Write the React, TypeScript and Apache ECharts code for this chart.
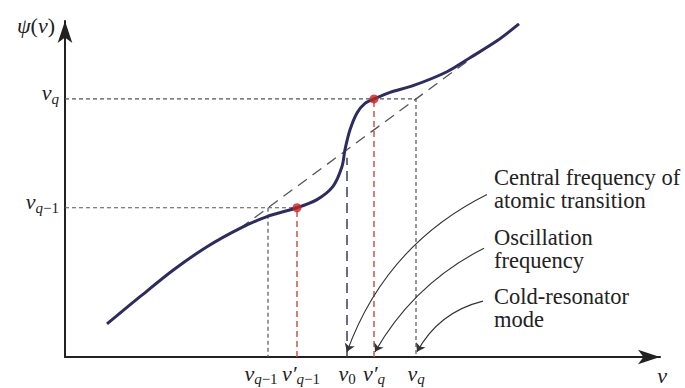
import React, { useEffect, useRef } from 'react';
import * as echarts from 'echarts';

// ---- data (diagram units: x in ν units, y in ψ units) ----
const xTickValues = [232, 282, 309, 351];
const xTickLabels = ['{gapR|}{v|ν′}{s|q}{n|−1}', '{v|ν}{n0|0}', '{v|ν′}{s|q}', '{v|ν}{s|q}'];
const xTickValues2 = [203];
const xTickLabels2 = ['{v|ν}{s|q}{n|−1}{gapL|}'];
const yTickValues = [203, 351];
const yTickLabels = ['{v|ν}{s|q}{n|−1}', '{v|ν}{s|q}'];

const curveX = [42, 75, 108, 142, 175, 202, 232, 252, 268, 277, 280, 285, 292, 300, 309, 325, 348, 382, 405, 432, 454];
const curveY = [45, 82, 118, 150, 175, 191, 203, 214, 232, 259, 282, 309, 332, 345, 351, 360, 369, 388, 407, 430, 453];

const diagonal = [[175, 175], [405, 405]];
const nu0Line = [[282, 0], [282, 271]];
const dotQ = [[0, 351], [351, 351], [351, 0]];
const dotQ1H = [[0, 203], [232, 203]];
const dotQ1V = [[203, 203], [203, 0]];
const redQ1 = [[232, 0], [232, 203]];
const redQ = [[309, 0], [309, 351]];
const dots = [[232, 203], [309, 351]];

const arrowStarts = [[422, 221], [419, 148], [418, 76]];
const arrowEnds = [[282, 7], [310, 7], [352, 7]];
const arrowCurv = [-0.2, -0.15, -0.22];

const annTexts = ['Central frequency of\natomic transition', 'Oscillation\nfrequency', 'Cold-resonator\nmode'];
const annTops = [166, 226, 285];

const SERIF = '"Liberation Serif", "DejaVu Serif", serif';
const INK = '#222';

const rich = {
  v: { fontFamily: SERIF, fontStyle: 'italic', fontSize: 22, color: INK, verticalAlign: 'top', lineHeight: 22 },
  s: { fontFamily: SERIF, fontStyle: 'italic', fontSize: 15, color: INK, verticalAlign: 'middle', lineHeight: 34 },
  n: { fontFamily: SERIF, fontSize: 15, color: INK, verticalAlign: 'middle', lineHeight: 34 },
  n0: { fontFamily: SERIF, fontSize: 15, color: INK, verticalAlign: 'middle', lineHeight: 34 },
  i: { fontFamily: SERIF, fontStyle: 'italic', fontSize: 22, color: INK },
  u: { fontFamily: SERIF, fontSize: 22, color: INK },
  gapR: { width: 8, fontSize: 1 },
  gapL: { width: 14, fontSize: 1 },
};

function seg(data: number[][], color: string, width: number, type: any) {
  return {
    type: 'line',
    data,
    symbol: 'none',
    silent: true,
    lineStyle: { color, width, type },
    z: 2,
  };
}

export default function App() {
  const ref = useRef<HTMLDivElement>(null);
  useEffect(() => {
    const chart = echarts.init(ref.current!, null, { renderer: 'svg' });
    const option: any = {
      animation: false,
      backgroundColor: '#fff',
      grid: { left: 65, right: 25, top: 21, bottom: 31 },
      xAxis: [
        {
          type: 'value',
          position: 'bottom',
          min: 0,
          max: 595,
          axisLine: { show: true, symbol: ['none', 'arrow'], symbolSize: [11, 22], lineStyle: { color: INK, width: 2 } },
          axisTick: { show: false },
          splitLine: { show: false },
          axisLabel: {
            customValues: xTickValues,
            formatter: (v: number) => xTickLabels[xTickValues.indexOf(v)] ?? '',
            margin: 5,
            hideOverlap: false,
            rich,
          },
          name: '{i|ν}',
          nameLocation: 'end',
          nameGap: 2,
          nameTextStyle: { align: 'center', verticalAlign: 'top', padding: [7, 0, 0, 0], rich },
        },
        {
          type: 'value',
          position: 'bottom',
          offset: 0,
          min: 0,
          max: 595,
          axisLine: { show: false },
          axisTick: { show: false },
          splitLine: { show: false },
          axisLabel: {
            customValues: xTickValues2,
            formatter: (v: number) => xTickLabels2[xTickValues2.indexOf(v)] ?? '',
            margin: 5,
            rich,
          },
        },
      ],
      yAxis: {
        type: 'value',
        min: 0,
        max: 457,
        axisLine: { show: true, symbol: ['none', 'arrow'], symbolSize: [11, 22], lineStyle: { color: INK, width: 2 } },
        axisTick: { show: false },
        splitLine: { show: false },
        axisLabel: {
          customValues: yTickValues,
          formatter: (v: number) => yTickLabels[yTickValues.indexOf(v)] ?? '',
          margin: 6,
          hideOverlap: false,
          rich,
        },
        name: '{i|ψ}{u|(}{i|ν}{u|)}',
        nameLocation: 'end',
        nameGap: -4,
        nameTextStyle: { align: 'right', verticalAlign: 'middle', padding: [0, 10, 0, 0], rich },
      },
      series: [
        seg(diagonal, '#555', 1.3, [11, 7]),
        seg(nu0Line, '#3a3a58', 1.5, [10, 6]),
        seg(dotQ, '#555', 1.2, [4, 3]),
        seg(dotQ1H, '#555', 1.2, [4, 3]),
        seg(dotQ1V, '#555', 1.2, [4, 3]),
        seg(redQ1, '#d0504a', 1.5, [6, 4]),
        seg(redQ, '#d0504a', 1.5, [6, 4]),
        {
          type: 'line',
          data: curveX.map((x, i) => [x, curveY[i]]),
          symbol: 'none',
          smooth: 0.3,
          lineStyle: { color: '#2d2b62', width: 3 },
          z: 3,
        },
        {
          type: 'scatter',
          data: dots,
          symbolSize: 9,
          itemStyle: { color: '#c8221e' },
          z: 4,
        },
        {
          type: 'lines',
          coordinateSystem: 'cartesian2d',
          symbol: ['none', 'arrow'],
          symbolSize: 8,
          lineStyle: { color: '#333', width: 1.1, opacity: 1 },
          data: arrowStarts.map((s, i) => ({ coords: [s, arrowEnds[i]], lineStyle: { curveness: arrowCurv[i] } })),
          z: 4,
        },
      ],
      graphic: annTexts.map((t, i) => ({
        type: 'text',
        left: 494,
        top: annTops[i],
        style: { text: t, fontFamily: SERIF, fontSize: 22.5, lineHeight: 23, fill: INK },
      })),
    };
    chart.setOption(option);
    return () => chart.dispose();
  }, []);
  return <div ref={ref} style={{ position: 'fixed', left: 0, top: 0, width: 685, height: 388, background: '#fff' }} />;
}
